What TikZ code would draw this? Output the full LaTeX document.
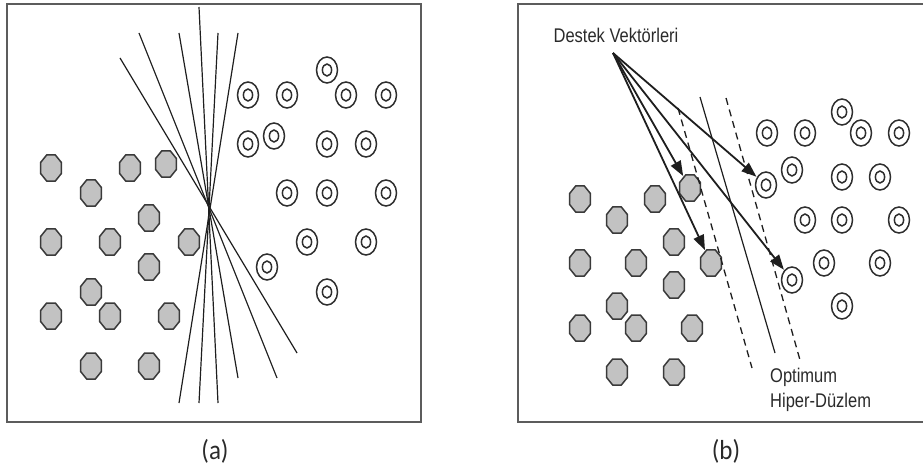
\documentclass[tikz,border=0pt]{standalone}
\usepackage{fontspec}
\setmainfont{Liberation Sans}
\newfontfamily\capfont{Carlito}
\usetikzlibrary{shapes.geometric,arrows.meta}

\definecolor{framegray}{HTML}{5C5C5C}
\definecolor{octfill}{HTML}{C2C2C2}
\definecolor{octline}{HTML}{3A3A3A}
\definecolor{ringline}{HTML}{2E2E2E}
\definecolor{inkline}{HTML}{1E1E1E}
\definecolor{txtgray}{HTML}{2A2A2A}

\tikzset{
  frame/.style={draw=framegray, line width=2pt, line join=miter},
  octo/.style={regular polygon, regular polygon sides=8, minimum size=22.7pt,
    inner sep=0pt, fill=octfill, draw=octline, line width=1.5pt, yscale=1.24},
  ring/.style={ellipse, minimum width=21pt, minimum height=26pt, inner sep=0pt,
    draw=ringline, line width=1.5pt,
    path picture={\draw[ringline, line width=1.5pt]
      (path picture bounding box.center) ellipse (4.6pt and 6pt);}},
  sepline/.style={draw=inkline, line width=1.2pt},
  marginline/.style={draw=inkline, line width=1.3pt, dash pattern=on 7pt off 5pt},
  pointer/.style={draw=inkline, line width=1.8pt,
    -{Triangle[length=15pt,width=11pt]}, shorten >=0.5pt},
  lbl/.style={font=\fontsize{16.5}{20.8}\selectfont, text=txtgray,
    inner sep=0pt, yscale=1.2},
  captext/.style={font=\capfont\fontsize{25}{30}\selectfont, text=txtgray,
    inner sep=0pt, yscale=1.1}
}

\begin{document}
\begin{tikzpicture}[x=1pt, y=-1pt]
\useasboundingbox (0,0) rectangle (923,468);

% ---------- panel (a): many possible separating lines ----------
\draw[frame] (7,4) rectangle (421,422);

\foreach \px/\py [count=\i] in {51/168, 130/168, 166/164, 91/193, 149/218,
    51/242, 110/242, 189/242, 149/267, 91/292, 51/316, 110/316, 169/316,
    91/366, 149/366}
  \node[octo] (ao\i) at (\px,\py) {};

\foreach \px/\py [count=\i] in {327/70, 248/95, 287/95, 346/95, 386/95,
    274/136, 248/144, 327/144, 366/144, 287/193, 327/193, 386/193,
    307/242, 366/242, 267/267, 327/292}
  \node[ring] (ar\i) at (\px,\py) {};

\draw[sepline] (199,7) -- (218,403);
\draw[sepline] (218,33) -- (199,403);
\draw[sepline] (238,33) -- (179,403);
\draw[sepline] (179,33) -- (238,378);
\draw[sepline] (139,33) -- (277,378);
\draw[sepline] (120,58) -- (297,353);

\node[captext] (capa) at (215,451) {(a)};

% ---------- panel (b): optimum hyperplane and support vectors ----------
\draw[frame] (926,4) -- (518,4) -- (518,422) -- (926,422);

\foreach \px/\py [count=\i] in {580/199, 655/199, 617/220, 674/242,
    580/263, 636/263, 674/285, 617/306, 580/328, 636/328, 692/328,
    617/372, 674/372}
  \node[octo] (bo\i) at (\px,\py) {};
\node[octo] (sva) at (690,188) {};
\node[octo] (svb) at (711,263) {};

\foreach \px/\py [count=\i] in {842/112, 767/133, 805/133, 861/133,
    899/133, 792/170, 842/177, 880/177, 805/220, 842/220, 899/220,
    824/263, 880/263, 842/306}
  \node[ring] (br\i) at (\px,\py) {};
\node[ring] (svc) at (766,185) {};
\node[ring] (svd) at (792,280) {};

\draw[marginline] (678,108) -- (752,368);
\draw[sepline]    (700,97)  -- (775,353);
\draw[marginline] (726,98)  -- (800,360);

\node[lbl, anchor=base] (dvtext) at (616,43) {Destek Vektörleri};
\coordinate (dv) at (613,53);
\draw[pointer] (dv) -- (sva);
\draw[pointer] (dv) -- (svb);
\draw[pointer] (dv) -- (svc);
\draw[pointer] (dv) -- (svd);

% the base anchor of a two-line node sits on its last line
\node[lbl, anchor=base west, align=left] (hyp) at (770,407)
  {Optimum\\Hiper-Düzlem};

\node[captext] (capb) at (726,451) {(b)};
\end{tikzpicture}
\end{document}
